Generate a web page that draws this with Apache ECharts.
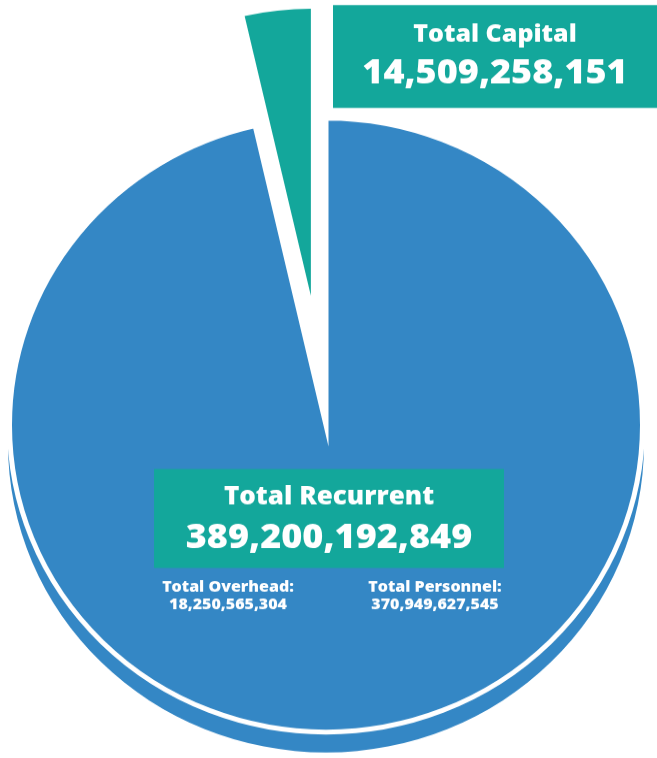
<!DOCTYPE html>
<html>
<head>
<meta charset="utf-8">
<script src="https://cdn.jsdelivr.net/npm/echarts@6/dist/echarts.min.js"></script>
<style>
  html, body { margin: 0; padding: 0; background: #fff; overflow: hidden; }
  /* the pie in the source is a slightly flattened disc */
  #chart { width: 657px; height: 782px; transform: scaleY(0.97); transform-origin: 0 0; }
</style>
</head>
<body>
<div id="chart"></div>
<script>
// budget split
const sliceNames = ['Total Recurrent', 'Total Capital']
const sliceValues = [389200192849, 14509258151]
const sliceColors = ['#3487c5', '#13a79b']
// breakdown of recurrent
const subNames = ['Total Overhead:', 'Total Personnel:']
const subValues = [18250565304, 370949627545]

const FONT = '"Open Sans", Lato, sans-serif'
const SY = 0.97
// page y -> chart y
const sy = v => v / SY

function formatNumber(num) {
  return num.toString().replace(/\B(?=(\d{3})+(?!\d))/g, ',')
}

const chart = echarts.init(document.getElementById('chart'), null, { renderer: 'canvas' })

const cx = 326
const cy = sy(425)

// one pie per layer; the hidden slice stays transparent
function pieData(showIndex) {
  return sliceNames.map((name, i) => ({
    name: name,
    value: sliceValues[i],
    itemStyle: showIndex.includes(i)
      ? { color: sliceColors[i] }
      : { color: 'rgba(0,0,0,0)', borderWidth: 0 }
  }))
}

const capitalData = pieData([1])
capitalData[1].selected = true

function labelBox(x, y, w, h, title, value, titleSize, valueSize, t1, t2) {
  return [
    { type: 'rect', shape: { x: x, y: sy(y), width: w, height: sy(h) }, style: { fill: sliceColors[1] }, z: 100 },
    {
      type: 'text', z: 101,
      style: {
        text: title, x: x + w / 2, y: sy(t1),
        align: 'center', verticalAlign: 'middle',
        fill: '#fff', font: '800 ' + titleSize + 'px ' + FONT
      }
    },
    {
      type: 'text', z: 101,
      style: {
        text: formatNumber(value), x: x + w / 2, y: sy(t2),
        align: 'center', verticalAlign: 'middle',
        fill: '#fff', font: '800 ' + valueSize + 'px ' + FONT
      }
    }
  ]
}

function subLabel(x, name, value) {
  return [
    {
      type: 'text', z: 101,
      style: {
        text: name, x: x, y: sy(587), align: 'center', verticalAlign: 'middle',
        fill: '#fff', font: '800 16px ' + FONT
      }
    },
    {
      type: 'text', z: 101,
      style: {
        text: formatNumber(value), x: x, y: sy(605), align: 'center', verticalAlign: 'middle',
        fill: '#fff', font: '800 16px ' + FONT
      }
    }
  ]
}

chart.setOption({
  animation: false,
  series: [
    {
      // the rim underneath
      name: 'rim',
      type: 'pie',
      silent: true,
      center: [cx, sy(444)],
      radius: 318,
      startAngle: 90,
      label: { show: false },
      labelLine: { show: false },
      data: pieData([0]),
      z: 1
    },
    {
      name: 'recurrent',
      type: 'pie',
      silent: true,
      center: [cx, cy],
      radius: 316.5,
      startAngle: 90,
      itemStyle: { borderColor: '#fff', borderWidth: 5, borderJoin: 'miter', borderMiterLimit: 10 },
      label: { show: false },
      labelLine: { show: false },
      data: pieData([0]),
      z: 2
    },
    {
      name: 'capital',
      type: 'pie',
      silent: true,
      center: [cx, cy],
      radius: 296,
      startAngle: 90,
      selectedMode: 'single',
      selectedOffset: 134,
      label: { show: false },
      labelLine: { show: false },
      data: capitalData,
      z: 3
    }
  ],
  graphic: [
    ...labelBox(333, 5, 324, 103, sliceNames[1], sliceValues[1], 25, 36, 35, 73),
    ...labelBox(154, 469, 350, 99, sliceNames[0], sliceValues[0], 26, 36, 497, 538),
    ...subLabel(228, subNames[0], subValues[0]),
    ...subLabel(435, subNames[1], subValues[1])
  ]
})
</script>
</body>
</html>
